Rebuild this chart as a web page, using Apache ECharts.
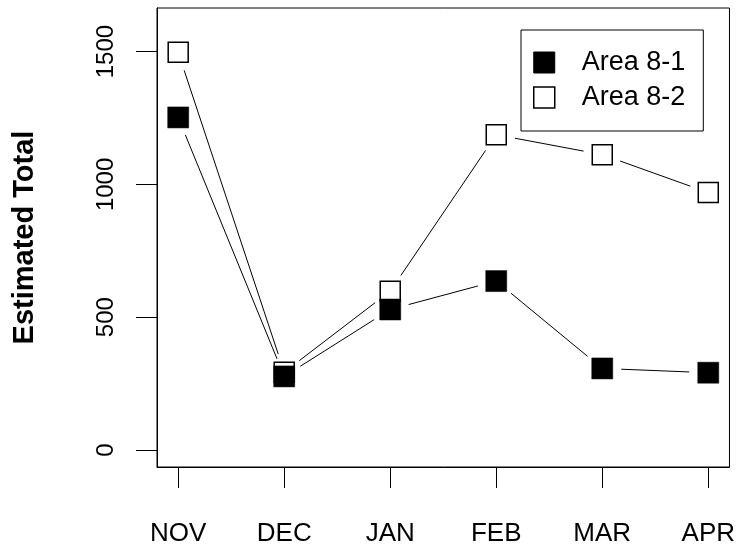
<!DOCTYPE html>
<html>
<head>
<meta charset="utf-8">
<script src="https://cdn.jsdelivr.net/npm/echarts@6/dist/echarts.min.js"></script>
<style>
html,body{margin:0;padding:0;background:#fff;}
#chart{width:738px;height:548px;}
</style>
</head>
<body>
<div id="chart"></div>
<script>
// ---- data ----
var months = ['NOV', 'DEC', 'JAN', 'FEB', 'MAR', 'APR'];
var area81 = [1252, 277, 529, 636, 307, 291];
var area82 = [1497, 293, 598, 1187, 1112, 969];
var yTicks = [0, 500, 1000, 1500];
var seriesNames = ['Area 8-1', 'Area 8-2'];

var FONT = '"Liberation Sans", Arial, sans-serif';
var GAP = 19;

function pairs(arr) {
  return arr.map(function (v, i) { return [i + 1, v]; });
}

function gapLineSeries(name, arr) {
  var pts = pairs(arr);
  return {
    type: 'custom',
    name: name + '-line',
    silent: true,
    z: 1,
    data: pts.slice(0, pts.length - 1),
    renderItem: function (params, api) {
      var i = params.dataIndex;
      var a = api.coord(pts[i]);
      var b = api.coord(pts[i + 1]);
      var dx = b[0] - a[0], dy = b[1] - a[1];
      var len = Math.sqrt(dx * dx + dy * dy);
      if (len <= 2 * GAP) return null;
      var ux = dx / len, uy = dy / len;
      return {
        type: 'line',
        shape: {
          x1: a[0] + ux * GAP, y1: a[1] + uy * GAP,
          x2: b[0] - ux * GAP, y2: b[1] - uy * GAP
        },
        style: { stroke: '#000', lineWidth: 1 }
      };
    }
  };
}

var chart = echarts.init(document.getElementById('chart'), null, { renderer: 'canvas' });
chart.setOption({
  animation: false,
  backgroundColor: '#fff',
  grid: {
    left: 157, top: 8, width: 575, height: 459,
    show: true, borderColor: '#000', borderWidth: 1, backgroundColor: 'transparent'
  },
  legend: {
    left: 521, top: 30,
    orient: 'vertical',
    data: [
      { name: seriesNames[0], icon: 'rect', itemStyle: { color: '#000', borderColor: '#000', borderWidth: 1 } },
      { name: seriesNames[1], icon: 'rect', itemStyle: { color: '#fff', borderColor: '#000', borderWidth: 1.5 } }
    ],
    itemWidth: 21, itemHeight: 21, itemGap: 8,
    padding: [19, 18, 20, 12],
    borderColor: '#000', borderWidth: 1, borderRadius: 0,
    backgroundColor: '#fff',
    selectedMode: false,
    textStyle: { fontFamily: FONT, fontSize: 27, color: '#000', padding: [0, 0, 0, 22] }
  },
  xAxis: {
    type: 'value', min: 0.8, max: 6.2,
    splitLine: { show: false },
    axisLine: { show: true, onZero: false, lineStyle: { color: '#000', width: 1 } },
    axisTick: { show: true, length: 21, inside: false, customValues: [1, 2, 3, 4, 5, 6], lineStyle: { color: '#000', width: 1 } },
    axisLabel: {
      customValues: [1, 2, 3, 4, 5, 6],
      margin: 54,
      fontFamily: FONT, fontSize: 26, color: '#000',
      formatter: function (v) { return months[Math.round(v) - 1]; }
    }
  },
  yAxis: {
    type: 'value', min: -64, max: 1664,
    name: 'Estimated Total',
    nameLocation: 'middle', nameRotate: 90, nameGap: 118,
    nameTextStyle: { fontFamily: FONT, fontSize: 29, fontWeight: 'bold', color: '#000' },
    splitLine: { show: false },
    axisLine: { show: true, onZero: false, lineStyle: { color: '#000', width: 1 } },
    axisTick: { show: true, length: 21, inside: false, customValues: yTicks, lineStyle: { color: '#000', width: 1 } },
    axisLabel: {
      customValues: yTicks,
      rotate: 90,
      margin: 39,
      fontFamily: FONT, fontSize: 24, color: '#000',
      formatter: function (v) { return String(Math.round(v)); }
    }
  },
  series: [
    gapLineSeries(seriesNames[1], area82),
    gapLineSeries(seriesNames[0], area81),
    {
      type: 'scatter', name: seriesNames[1], z: 2,
      symbol: 'rect', symbolSize: 20,
      itemStyle: { color: '#fff', borderColor: '#000', borderWidth: 1.5, opacity: 1 },
      data: pairs(area82)
    },
    {
      type: 'scatter', name: seriesNames[0], z: 3,
      symbol: 'rect', symbolSize: 21,
      itemStyle: { color: '#000', borderColor: '#000', borderWidth: 0.5, opacity: 1 },
      data: pairs(area81)
    }
  ]
});
</script>
</body>
</html>
